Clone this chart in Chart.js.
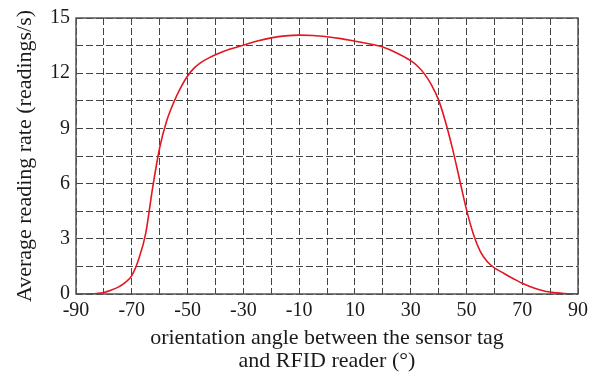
<!DOCTYPE html>
<html>
<head>
<meta charset="utf-8">
<script src="https://cdn.jsdelivr.net/npm/chart.js@4.4.1/dist/chart.umd.min.js"></script>
<style>
  html, body { margin: 0; padding: 0; background: #fff; }
  #wrap { width: 597px; height: 373px; }
</style>
</head>
<body>
<div id="wrap"><canvas id="rateChart" width="597" height="373"></canvas></div>
<script>
"use strict";

// orientation angle (deg) and measured average reading rate (readings/s)
const angles = [
  -90, -87.5, -85, -82.5, -80, -77.5, -75, -72.5, -70, -67.5, -65, -62.5, -60, -57.5, -55, -52.5,
  -50, -47.5, -45, -42.5, -40, -35, -30, -25, -20, -15, -10, -5, 0, 5, 10, 15, 20, 25, 30, 32.5,
  35, 37.5, 40, 42.5, 45, 47.5, 50, 52.5, 55, 57.5, 60, 62.5, 65, 67.5, 70, 72.5, 75, 77.5, 80,
  82.5, 85, 87.5, 90
];
const rates = [
  0, 0, 0.01, 0.03, 0.08, 0.2, 0.36, 0.6, 1.0, 1.9, 3.3, 5.8, 7.95, 9.4, 10.4, 11.2,
  11.85, 12.3, 12.6, 12.82, 13.0, 13.3, 13.52, 13.75, 13.92, 14.03, 14.07, 14.05, 13.98, 13.88, 13.74, 13.6, 13.42, 13.1, 12.68, 12.38,
  11.95, 11.35, 10.55, 9.35, 7.9, 6.25, 4.6, 3.25, 2.3, 1.75, 1.42, 1.2, 0.98, 0.78, 0.58, 0.42, 0.28, 0.18, 0.11,
  0.06, 0.03, 0.01, 0
];

const xLabelTicks = [-90, -70, -50, -30, -10, 10, 30, 50, 70, 90];
const yLabelTicks = [0, 3, 6, 9, 12, 15];

const serif = "'Liberation Serif', 'Times New Roman', serif";
const gridColor = "#444";
const textColor = "#1a1a1a";

// solid frame around the plot area
const frameBox = {
  id: "frameBox",
  afterDatasetsDraw(chart) {
    const { ctx, chartArea: a } = chart;
    ctx.save();
    ctx.strokeStyle = "#555";
    ctx.lineWidth = 1.5;
    ctx.strokeRect(a.left, a.top, a.right - a.left, a.bottom - a.top);
    ctx.restore();
  }
};

new Chart(document.getElementById("rateChart"), {
  type: "line",
  data: {
    datasets: [
      {
        data: angles.map((a, i) => ({ x: a, y: rates[i] })),
        borderColor: "#e3171f",
        borderWidth: 1.6,
        pointRadius: 0,
        fill: false,
        cubicInterpolationMode: "monotone"
      }
    ]
  },
  options: {
    responsive: false,
    animation: false,
    layout: { padding: { top: 16, right: 19, left: 0, bottom: 0 } },
    plugins: { legend: { display: false }, tooltip: { enabled: false } },
    scales: {
      x: {
        type: "linear",
        min: -90,
        max: 90,
        afterFit(scale) { scale.height = 79; },
        grid: { color: gridColor, lineWidth: 1, drawTicks: false },
        border: { display: false, dash: [7, 3] },
        ticks: {
          stepSize: 10,
          autoSkip: false,
          maxRotation: 0,
          padding: 5,
          color: textColor,
          font: { family: serif, size: 20 },
          callback: (v) => (xLabelTicks.includes(v) ? String(v) : "")
        },
        title: {
          display: true,
          text: ["orientation angle between the sensor tag", "and RFID reader (\u00b0)"],
          color: textColor,
          font: { family: serif, size: 22, lineHeight: 1.02 },
          padding: { top: 0, bottom: 1 }
        }
      },
      y: {
        min: 0,
        max: 15,
        afterFit(scale) { scale.width = 76; },
        grid: { color: gridColor, lineWidth: 1, drawTicks: false },
        border: { display: false, dash: [7, 3] },
        ticks: {
          stepSize: 1.5,
          autoSkip: false,
          padding: 6,
          color: textColor,
          font: { family: serif, size: 20 },
          callback: (v) => (yLabelTicks.includes(v) ? String(v) : "")
        },
        title: {
          display: true,
          text: "Average reading rate (readings/s)",
          color: textColor,
          font: { family: serif, size: 22 },
          padding: { top: 12, bottom: 0 }
        }
      }
    }
  },
  plugins: [frameBox]
});
</script>
</body>
</html>
